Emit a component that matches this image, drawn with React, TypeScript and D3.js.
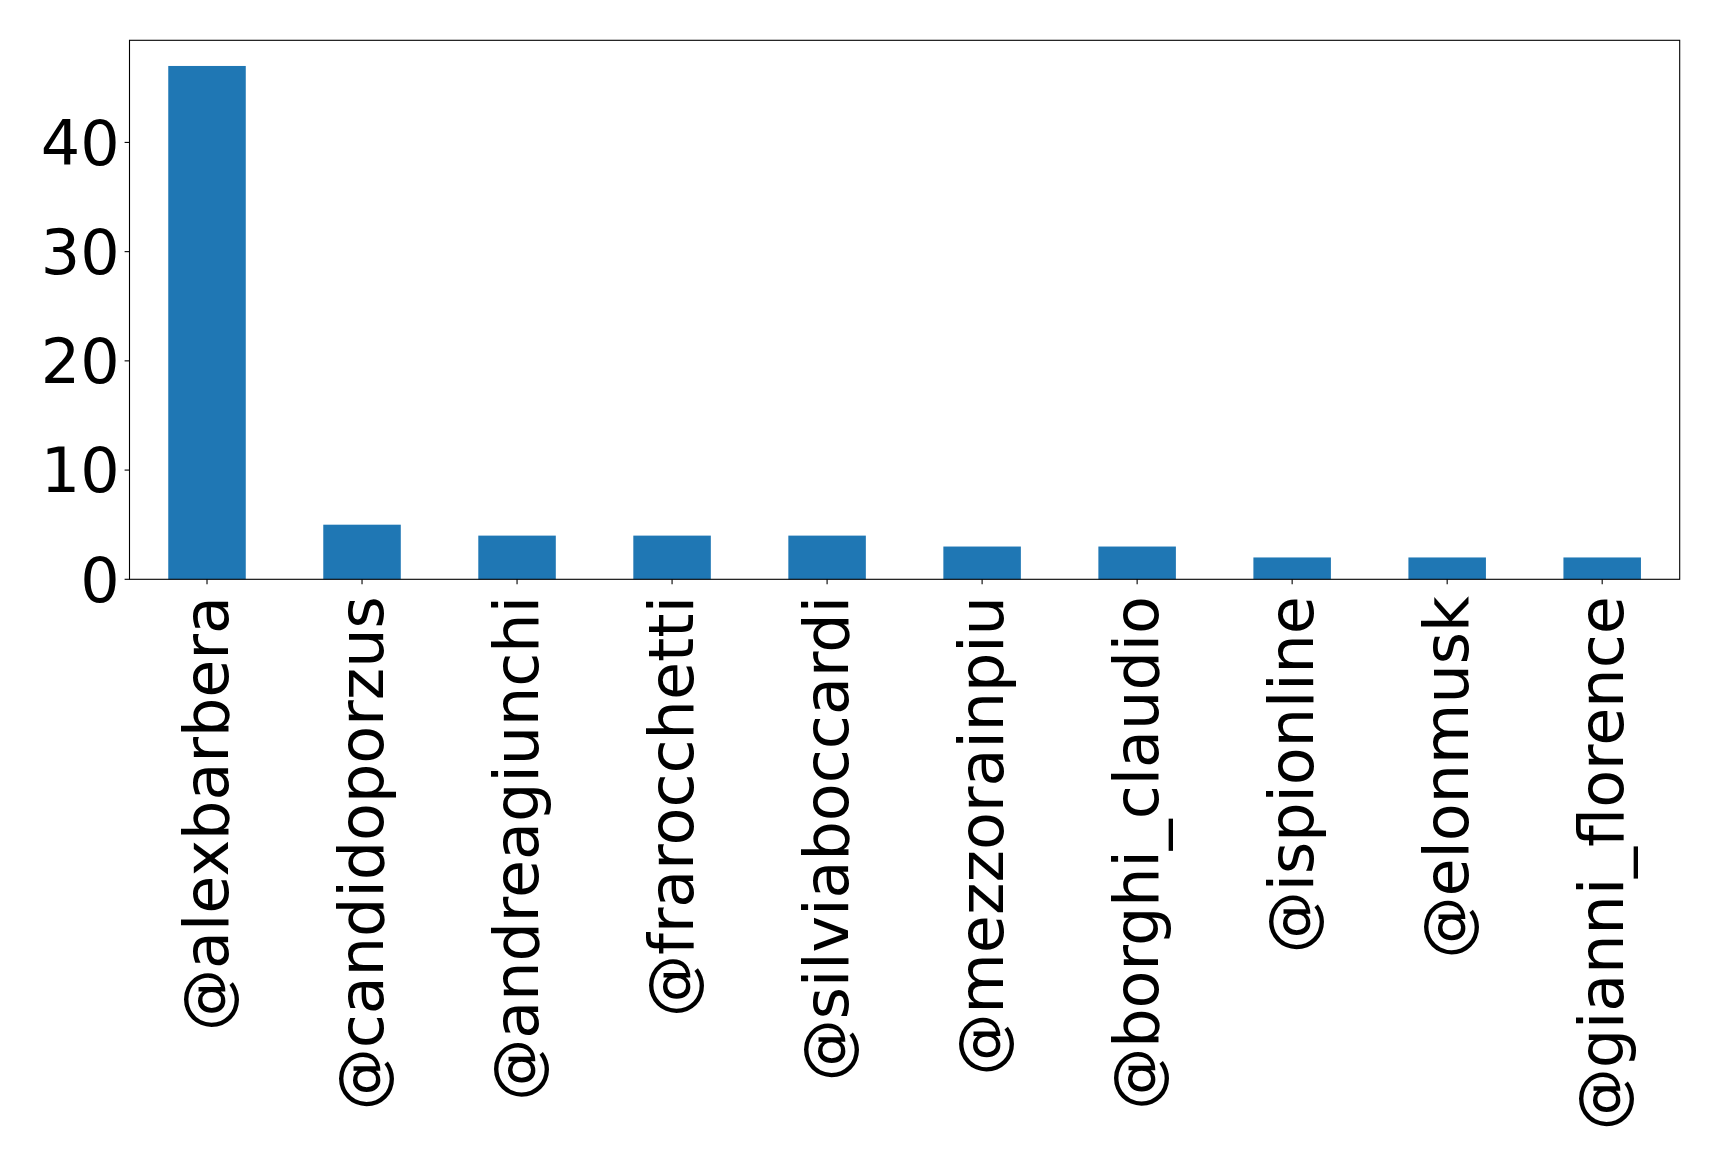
import React from 'react';
import * as d3 from 'd3';

const users = [
  '@alexbarbera',
  '@candidoporzus',
  '@andreagiunchi',
  '@frarocchetti',
  '@silviaboccardi',
  '@mezzorainpiu',
  '@borghi_claudio',
  '@ispionline',
  '@elonmusk',
  '@gianni_florence',
];
const counts = [47, 5, 4, 4, 4, 3, 3, 2, 2, 2];
const yTicks = [0, 10, 20, 30, 40];

const width = 1719;
const height = 1167;
const left = 129.5;
const right = 1679.7;
const top = 40.3;
const bottom = 579.3;
const fontSize = 62;
const tickLen = 4.9;
const pad = 4.9;
const barColor = '#1f77b4';

export default function App() {
  // pandas-style bar plot: bars half the slot width, slots span the whole axis
  const x = d3
    .scaleBand<string>()
    .domain(users)
    .range([left, right])
    .paddingInner(0.5)
    .paddingOuter(0.25);

  const yMax = d3.max(counts)! * 1.05;
  const y = d3.scaleLinear().domain([0, yMax]).range([bottom, top]);

  return (
    <svg
      width={width}
      height={height}
      style={{ position: 'absolute', left: 0, top: 0, background: '#fff' }}
      fontFamily="DejaVu Sans, sans-serif"
    >
      <rect x={0} y={0} width={width} height={height} fill="#fff" />
      {counts.map((c, i) => (
        <rect
          key={users[i]}
          x={x(users[i])}
          y={y(c)}
          width={x.bandwidth()}
          height={bottom - y(c)}
          fill={barColor}
        />
      ))}

      {/* axes frame */}
      <rect
        x={left}
        y={top}
        width={right - left}
        height={bottom - top}
        fill="none"
        stroke="#000"
        strokeWidth={1.1}
      />

      {/* y ticks */}
      {yTicks.map((t) => (
        <g key={t} transform={`translate(0,${y(t)})`}>
          <line x1={left - tickLen} x2={left} stroke="#000" strokeWidth={1.1} />
          <text
            x={left - tickLen - pad}
            dy="0.36em"
            textAnchor="end"
            fontSize={fontSize}
            fill="#000"
          >
            {t}
          </text>
        </g>
      ))}

      {/* x ticks, rotated labels */}
      {users.map((u) => {
        const cx = x(u)! + x.bandwidth() / 2;
        return (
          <g key={u}>
            <line y1={bottom} y2={bottom + tickLen} x1={cx} x2={cx} stroke="#000" strokeWidth={1.1} />
            <text
              transform={`translate(${cx},${bottom + tickLen + pad + 7}) rotate(-90)`}
              dy="0.34em"
              textAnchor="end"
              fontSize={fontSize}
              fill="#000"
            >
              {u}
            </text>
          </g>
        );
      })}
    </svg>
  );
}
